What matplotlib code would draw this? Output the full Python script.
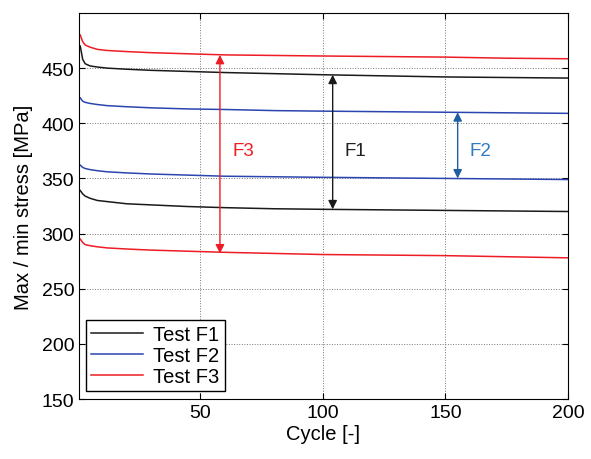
import numpy as np
import matplotlib.pyplot as plt

plt.rcParams['font.family'] = ['Liberation Sans', 'DejaVu Sans']

cycle = [1, 2, 3, 5, 8, 12, 20, 30, 45, 60, 80, 100, 125, 150, 175, 200]

f1_max = [470, 458, 454, 452, 451, 450, 449, 448, 447, 446, 445, 444, 443, 442, 441.5, 441]
f1_min = [339, 336, 334, 332, 330, 329, 327, 326, 324.5, 323.5, 322.5, 322, 321.5, 321, 320.5, 320]
f2_max = [423, 420, 419, 418, 417, 416, 415, 414, 413, 412.5, 411.5, 411, 410.5, 410, 409.5, 409]
f2_min = [362, 360, 359, 358, 357, 356, 355, 354, 353, 352, 351.5, 351, 350.5, 350, 349.5, 349]
f3_max = [480, 474, 471, 469, 467, 466, 465, 464, 463, 462, 461.5, 461, 460.5, 460, 459, 458.5]
f3_min = [295, 292, 290, 289, 288, 287, 286, 285, 284, 283, 282, 281, 280.5, 280, 279, 278]

col1 = '#1a1a1a'
col2 = '#2b45b0'
col3 = '#ee1c25'

fig = plt.figure(figsize=(5.91, 4.6), dpi=100)
ax = fig.add_axes([0.1337, 0.1304, 0.8273, 0.8392])

ax.plot(cycle, f1_max, color=col1, lw=1.1, label='Test F1')
ax.plot(cycle, f2_max, color=col2, lw=1.1, label='Test F2')
ax.plot(cycle, f3_max, color=col3, lw=1.1, label='Test F3')
ax.plot(cycle, f1_min, color=col1, lw=1.1)
ax.plot(cycle, f2_min, color=col2, lw=1.1)
ax.plot(cycle, f3_min, color=col3, lw=1.1)

# range arrows between max and min
arrows = [(58, 462, 282, col3, 'F3', col3),
          (104, 444, 322, col1, 'F1', '#222222'),
          (155, 410, 350, '#1f5fa0', 'F2', '#2e7bc4')]
for xa, top, bot, c, lab, tc in arrows:
    ax.annotate('', xy=(xa, top), xytext=(xa, bot),
                arrowprops=dict(arrowstyle='<|-|>', color=c, lw=1.0,
                                mutation_scale=13, shrinkA=0, shrinkB=0))
    ax.text(xa + 5, 375, lab, color=tc, fontsize=13.5, va='center', ha='left')

ax.set_xlim(0.5, 200)
ax.set_ylim(150, 500)
ax.set_xticks([50, 100, 150, 200])
ax.set_yticks(np.arange(150, 451, 50))
ax.grid(True, color='#777777', linestyle=':', linewidth=0.7)
ax.tick_params(direction='in', top=True, right=True, labelsize=14, length=4)
ax.set_xlabel('Cycle [-]', fontsize=14.5, labelpad=2)
ax.set_ylabel('Max / min stress [MPa]', fontsize=14.5, labelpad=6)

leg = ax.legend(loc='lower left', bbox_to_anchor=(0.014, 0.02), fontsize=14.5,
                fancybox=False, edgecolor='black', framealpha=1,
                handlelength=2.6, borderpad=0.25, labelspacing=0.1,
                handletextpad=0.5, borderaxespad=0)
leg.get_frame().set_linewidth(1.0)

fig.savefig('out.png', dpi=100)
